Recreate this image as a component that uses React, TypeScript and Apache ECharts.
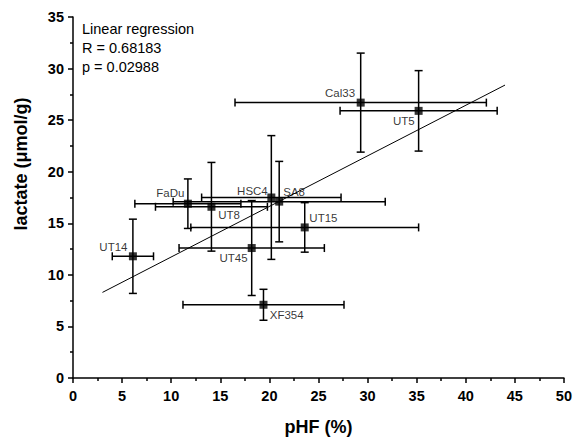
import React, { useEffect, useRef } from "react";
import * as echarts from "echarts";

// ---- data ----
const cellLines = ["UT14", "FaDu", "UT8", "HSC4", "SA8", "UT45", "XF354", "UT15", "Cal33", "UT5"];
const phf = [6.1, 11.7, 14.1, 20.2, 21.0, 18.2, 19.4, 23.6, 29.3, 35.2];
const phfErr = [2.1, 5.4, 5.7, 7.1, 10.8, 7.4, 8.2, 11.6, 12.8, 8.0];
const lactate = [11.8, 16.9, 16.6, 17.5, 17.1, 12.6, 7.1, 14.6, 26.7, 25.9];
const lactateErr = [3.6, 2.4, 4.3, 6.0, 3.9, 4.6, 1.5, 2.4, 4.8, 3.9];
const regressionX = [3, 44];
const regressionY = [8.3, 28.4];
const xTicks = [0, 50, 5];
const yTicks = [0, 35, 5];
const statsLines = ["Linear regression", "R = 0.68183", "p = 0.02988"];

// label placement (style, relative to the marker centre)
const labelOffsets: Record<string, [number, number]> = {
  UT14: [-19.5, -9.6],
  FaDu: [-17.5, -10.3],
  UT8: [17.7, 8.7],
  HSC4: [-18.9, -6.8],
  SA8: [14.9, -10],
  UT45: [-18.2, 10.3],
  XF354: [23.2, 10.7],
  UT15: [18.7, -9],
  Cal33: [-20.6, -9.7],
  UT5: [-14.8, 9.7],
};

const FONT = "Arial, 'Liberation Sans', Helvetica, sans-serif";

export default function App() {
  const ref = useRef<HTMLDivElement>(null);
  useEffect(() => {
    if (!ref.current) return;
    const chart = echarts.init(ref.current, undefined, { renderer: "svg" });

    const errData = cellLines.map((_, i) => [phf[i], lactate[i], phfErr[i], lactateErr[i]]);
    const pointData = cellLines.map((name, i) => ({
      name,
      value: [phf[i], lactate[i]],
      label: { offset: labelOffsets[name] || [0, 0] },
    }));

    const cap = 4;
    const stroke = { stroke: "#000", lineWidth: 1.5 };

    chart.setOption({
      animation: false,
      backgroundColor: "#fff",
      grid: { left: 73, right: 10, top: 17, bottom: 62, containLabel: false },
      xAxis: {
        type: "value",
        min: xTicks[0],
        max: xTicks[1],
        interval: xTicks[2],
        name: "pHF (%)",
        nameLocation: "middle",
        nameGap: 40,
        nameTextStyle: { fontFamily: FONT, fontWeight: "bold", fontSize: 18, color: "#000" },
        axisLine: { show: true, onZero: false, lineStyle: { color: "#000", width: 1.5 } },
        axisTick: { show: true, inside: false, length: 5, lineStyle: { color: "#000", width: 1.5 } },
        minorTick: { show: true, splitNumber: 2, length: 3, lineStyle: { color: "#000", width: 1.5 } },
        axisLabel: { fontFamily: FONT, fontWeight: "bold", fontSize: 14.5, color: "#000", margin: 10 },
        splitLine: { show: false },
      },
      yAxis: {
        type: "value",
        min: yTicks[0],
        max: yTicks[1],
        interval: yTicks[2],
        axisLine: { show: true, onZero: false, lineStyle: { color: "#000", width: 1.5 } },
        axisTick: { show: true, inside: false, length: 5, lineStyle: { color: "#000", width: 1.5 } },
        minorTick: { show: true, splitNumber: 2, length: 3, lineStyle: { color: "#000", width: 1.5 } },
        axisLabel: { fontFamily: FONT, fontWeight: "bold", fontSize: 14.5, color: "#000", margin: 9 },
        splitLine: { show: false },
      },
      graphic: [
        {
          type: "text",
          x: 21,
          y: 164,
          rotation: Math.PI / 2,
          style: {
            text: "lactate (μmol/g)",
            font: `bold 18px ${FONT}`,
            fill: "#000",
            align: "center",
            verticalAlign: "middle",
          },
        },
        ...statsLines.map((t, i) => ({
          type: "text",
          left: 82,
          top: 21 + i * 19,
          style: { text: t, font: `14.5px ${FONT}`, fill: "#000" },
        })),
      ],
      series: [
        {
          type: "line",
          data: regressionX.map((x, i) => [x, regressionY[i]]),
          showSymbol: false,
          symbol: "none",
          lineStyle: { color: "#000", width: 1 },
          silent: true,
          z: 1,
        },
        {
          type: "custom",
          data: errData,
          encode: { x: 0, y: 1 },
          z: 2,
          renderItem: (params: any, api: any) => {
            const x = api.value(0);
            const y = api.value(1);
            const xe = api.value(2);
            const ye = api.value(3);
            const l = api.coord([x - xe, y]);
            const r = api.coord([x + xe, y]);
            const t = api.coord([x, y + ye]);
            const b = api.coord([x, y - ye]);
            return {
              type: "group",
              children: [
                { type: "line", shape: { x1: l[0], y1: l[1], x2: r[0], y2: r[1] }, style: stroke },
                { type: "line", shape: { x1: l[0], y1: l[1] - cap, x2: l[0], y2: l[1] + cap }, style: stroke },
                { type: "line", shape: { x1: r[0], y1: r[1] - cap, x2: r[0], y2: r[1] + cap }, style: stroke },
                { type: "line", shape: { x1: t[0], y1: t[1], x2: b[0], y2: b[1] }, style: stroke },
                { type: "line", shape: { x1: t[0] - cap, y1: t[1], x2: t[0] + cap, y2: t[1] }, style: stroke },
                { type: "line", shape: { x1: b[0] - cap, y1: b[1], x2: b[0] + cap, y2: b[1] }, style: stroke },
              ],
            };
          },
        },
        {
          type: "scatter",
          data: pointData,
          symbol: "rect",
          symbolSize: 8,
          itemStyle: { color: "#000" },
          z: 3,
          label: {
            show: true,
            position: "inside",
            formatter: "{b}",
            fontFamily: FONT,
            fontSize: 11.5,
            color: "#000",
            textBorderWidth: 0,
            textBorderColor: "transparent",
          },
        },
      ],
    });
    return () => chart.dispose();
  }, []);
  return (
    <div
      ref={ref}
      style={{ position: "fixed", left: 0, top: 0, width: 575, height: 441, background: "#fff" }}
    />
  );
}
